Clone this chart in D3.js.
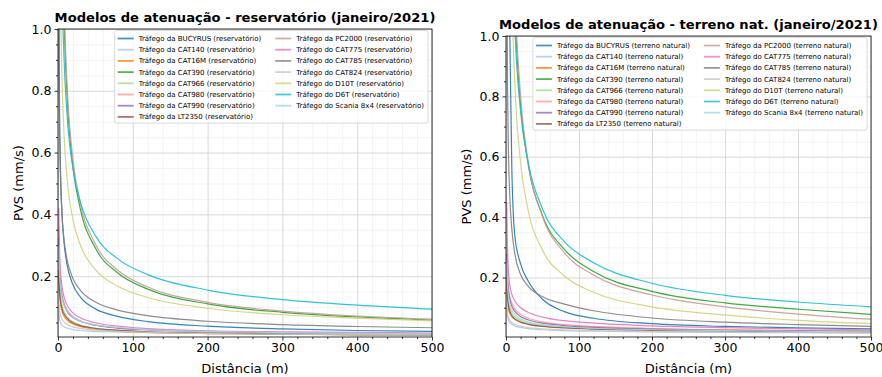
<!DOCTYPE html>
<html>
<head>
<meta charset="utf-8">
<script src="https://cdn.jsdelivr.net/npm/d3@7"></script>
<style>
  body { margin: 0; background: #fff; }
  text { font-family: "DejaVu Sans", sans-serif; fill: #000; }
</style>
</head>
<body>
<svg id="chart" width="882" height="377"></svg>
<script>
const distances = [1, 2, 3, 5, 8, 12, 20, 30, 50, 80, 120, 200, 300, 400, 500];

const machines = ['BUCYRUS', 'CAT140', 'CAT16M', 'CAT390', 'CAT966', 'CAT980', 'CAT990', 'LT2350',
                  'PC2000', 'CAT775', 'CAT785', 'CAT824', 'D10T', 'D6T', 'Scania 8x4'];
const articles = ['da', 'da', 'da', 'da', 'da', 'da', 'da', 'da',
                  'da', 'do', 'do', 'do', 'do', 'do', 'do'];
const colors = ['#1f77b4', '#aec7e8', '#ff7f0e', '#2ca02c', '#98df8a', '#ff9896', '#9467bd', '#8c564b',
                '#c49c94', '#e377c2', '#7f7f7f', '#c7c7c7', '#d2d27a', '#17becf', '#9edae5'];

const xTicks = [0, 100, 200, 300, 400, 500];
const yTicks = [0.2, 0.4, 0.6, 0.8, 1.0];

// PVS (mm/s) - reservatório
const resBucyrus = [1.2, 0.764, 0.588, 0.421, 0.311, 0.239, 0.172, 0.132, 0.094, 0.070, 0.053, 0.038, 0.029, 0.024, 0.021];
const resCat140  = [0.09, 0.062, 0.052, 0.042, 0.036, 0.032, 0.027, 0.024, 0.021, 0.019, 0.017, 0.016, 0.014, 0.013, 0.013];
const resCat16m  = [0.2, 0.141, 0.115, 0.089, 0.071, 0.058, 0.045, 0.037, 0.028, 0.022, 0.018, 0.014, 0.012, 0.010, 0.009];
const resCat390  = [4.5, 2.77, 2.08, 1.46, 1.05, 0.792, 0.554, 0.416, 0.291, 0.210, 0.158, 0.110, 0.083, 0.068, 0.058];
const resCat966  = [0.27, 0.184, 0.148, 0.112, 0.086, 0.069, 0.052, 0.042, 0.031, 0.024, 0.019, 0.015, 0.012, 0.010, 0.009];
const resCat980  = [0.36, 0.246, 0.197, 0.149, 0.115, 0.092, 0.069, 0.055, 0.042, 0.032, 0.026, 0.020, 0.016, 0.014, 0.012];
const resCat990  = [0.32, 0.222, 0.179, 0.137, 0.107, 0.086, 0.066, 0.054, 0.041, 0.032, 0.027, 0.021, 0.017, 0.015, 0.013];
const resLt2350  = [0.22, 0.156, 0.127, 0.098, 0.078, 0.064, 0.049, 0.040, 0.031, 0.025, 0.020, 0.016, 0.013, 0.011, 0.010];
const resPc2000  = [4.7, 2.90, 2.18, 1.52, 1.10, 0.827, 0.578, 0.435, 0.304, 0.219, 0.165, 0.115, 0.087, 0.071, 0.061];
const resCat775  = [0.42, 0.287, 0.230, 0.173, 0.134, 0.107, 0.081, 0.065, 0.049, 0.038, 0.030, 0.023, 0.020, 0.018, 0.016];
const resCat785  = [1.0, 0.683, 0.547, 0.413, 0.319, 0.255, 0.192, 0.154, 0.116, 0.090, 0.072, 0.054, 0.043, 0.037, 0.033];
const resCat824  = [0.12, 0.091, 0.077, 0.063, 0.052, 0.044, 0.036, 0.031, 0.025, 0.021, 0.018, 0.014, 0.012, 0.011, 0.010];
const resD10t    = [2.31, 1.52, 1.19, 0.880, 0.663, 0.520, 0.383, 0.300, 0.221, 0.167, 0.131, 0.096, 0.075, 0.064, 0.055];
const resD6t     = [2.85, 1.95, 1.56, 1.18, 0.909, 0.727, 0.547, 0.439, 0.331, 0.256, 0.205, 0.155, 0.124, 0.106, 0.093];
const resScania  = [0.3, 0.212, 0.173, 0.134, 0.106, 0.087, 0.067, 0.055, 0.042, 0.034, 0.027, 0.021, 0.017, 0.015, 0.013];

// PVS (mm/s) - terreno natural
const natBucyrus = [3.0, 1.9, 1.4, 1.05, 0.56, 0.34, 0.245, 0.19, 0.128, 0.087, 0.065, 0.047, 0.038, 0.033, 0.030];
const natCat140  = [0.1, 0.072, 0.062, 0.052, 0.045, 0.040, 0.035, 0.031, 0.027, 0.024, 0.022, 0.020, 0.018, 0.017, 0.016];
const natCat16m  = [0.17, 0.12, 0.10, 0.082, 0.070, 0.062, 0.053, 0.047, 0.041, 0.036, 0.033, 0.029, 0.026, 0.024, 0.023];
const natCat390  = [6.28, 3.87, 2.91, 2.03, 1.46, 1.105, 0.772, 0.581, 0.406, 0.293, 0.220, 0.154, 0.116, 0.095, 0.078];
const natCat966  = [0.22, 0.155, 0.128, 0.10, 0.082, 0.070, 0.057, 0.049, 0.041, 0.035, 0.031, 0.027, 0.024, 0.022, 0.021];
const natCat980  = [0.3, 0.21, 0.175, 0.14, 0.115, 0.097, 0.078, 0.066, 0.053, 0.044, 0.038, 0.031, 0.027, 0.024, 0.022];
const natCat990  = [0.28, 0.20, 0.165, 0.13, 0.105, 0.088, 0.071, 0.060, 0.049, 0.041, 0.035, 0.029, 0.025, 0.023, 0.021];
const natLt2350  = [0.2, 0.14, 0.115, 0.09, 0.074, 0.063, 0.052, 0.045, 0.038, 0.033, 0.029, 0.025, 0.022, 0.020, 0.019];
const natPc2000  = [7.55, 4.49, 3.31, 2.26, 1.59, 1.17, 0.80, 0.589, 0.402, 0.282, 0.208, 0.142, 0.103, 0.079, 0.062];
const natCat775  = [0.45, 0.30, 0.235, 0.178, 0.144, 0.122, 0.100, 0.085, 0.069, 0.057, 0.049, 0.040, 0.034, 0.030, 0.027];
const natCat785  = [1.3, 0.85, 0.66, 0.48, 0.36, 0.28, 0.21, 0.172, 0.136, 0.112, 0.090, 0.066, 0.052, 0.044, 0.038];
const natCat824  = [0.12, 0.085, 0.072, 0.060, 0.051, 0.045, 0.039, 0.034, 0.030, 0.027, 0.024, 0.021, 0.019, 0.018, 0.017];
const natD10t    = [5.47, 3.25, 2.40, 1.64, 1.15, 0.848, 0.580, 0.427, 0.291, 0.205, 0.151, 0.103, 0.076, 0.058, 0.047];
const natD6t     = [4.8, 3.12, 2.43, 1.77, 1.32, 1.03, 0.749, 0.586, 0.427, 0.319, 0.249, 0.181, 0.141, 0.119, 0.103];
const natScania  = [0.25, 0.175, 0.143, 0.112, 0.092, 0.078, 0.063, 0.053, 0.044, 0.037, 0.032, 0.027, 0.024, 0.022, 0.020];

const resSeries = [resBucyrus, resCat140, resCat16m, resCat390, resCat966, resCat980, resCat990, resLt2350,
                   resPc2000, resCat775, resCat785, resCat824, resD10t, resD6t, resScania];
const natSeries = [natBucyrus, natCat140, natCat16m, natCat390, natCat966, natCat980, natCat990, natLt2350,
                   natPc2000, natCat775, natCat785, natCat824, natD10t, natD6t, natScania];

const svg = d3.select('#chart');

function drawPanel(p) {
  const x = d3.scaleLinear().domain([0, 500]).range([p.left, p.right]);
  const y = d3.scaleLinear().domain([0.003, 1]).range([p.bottom, p.top]);
  const h = p.bottom - p.top;
  const g = svg.append('g');

  // grid, minor then major
  g.append('g')
    .attr('transform', `translate(0,${p.bottom})`)
    .call(d3.axisBottom(x).tickValues(d3.range(0, 501, 20)).tickSize(-h).tickFormat(''))
    .call(s => s.select('.domain').remove())
    .selectAll('line').attr('stroke', '#ececec').attr('stroke-width', 0.6);
  g.append('g')
    .attr('transform', `translate(${p.left},0)`)
    .call(d3.axisLeft(y).tickValues(d3.range(0.05, 1.0, 0.05)).tickSize(-(p.right - p.left)).tickFormat(''))
    .call(s => s.select('.domain').remove())
    .selectAll('line').attr('stroke', '#ececec').attr('stroke-width', 0.6);
  g.append('g')
    .attr('transform', `translate(0,${p.bottom})`)
    .call(d3.axisBottom(x).tickValues(xTicks).tickSize(-h).tickFormat(''))
    .call(s => s.select('.domain').remove())
    .selectAll('line').attr('stroke', '#d6d6d6').attr('stroke-width', 0.8);
  g.append('g')
    .attr('transform', `translate(${p.left},0)`)
    .call(d3.axisLeft(y).tickValues(yTicks).tickSize(-(p.right - p.left)).tickFormat(''))
    .call(s => s.select('.domain').remove())
    .selectAll('line').attr('stroke', '#d6d6d6').attr('stroke-width', 0.8);

  // curves
  const clipId = 'clip-' + p.key;
  svg.append('clipPath').attr('id', clipId)
    .append('rect').attr('x', p.left).attr('y', p.top)
    .attr('width', p.right - p.left).attr('height', h);

  const line = d3.line()
    .x((d, i) => x(distances[i]))
    .y(d => y(d))
    .curve(d3.curveMonotoneX);

  g.append('g').attr('clip-path', `url(#${clipId})`)
    .selectAll('path')
    .data(p.series)
    .join('path')
      .attr('d', line)
      .attr('fill', 'none')
      .attr('stroke', (d, i) => colors[i])
      .attr('stroke-width', 1.2)
      .attr('stroke-opacity', 0.9);

  // frame
  g.append('rect')
    .attr('x', p.left).attr('y', p.top)
    .attr('width', p.right - p.left).attr('height', h)
    .attr('fill', 'none').attr('stroke', '#000').attr('stroke-width', 0.8);

  // axes
  const xAxis = g.append('g')
    .attr('transform', `translate(0,${p.bottom})`)
    .call(d3.axisBottom(x).tickValues(xTicks).tickSize(3.5).tickPadding(3).tickFormat(d3.format('d')));
  const xMinor = g.append('g')
    .attr('transform', `translate(0,${p.bottom})`)
    .call(d3.axisBottom(x).tickValues(d3.range(20, 500, 20).filter(v => v % 100)).tickSize(2).tickFormat(''));
  const yAxis = g.append('g')
    .attr('transform', `translate(${p.left},0)`)
    .call(d3.axisLeft(y).tickValues(yTicks).tickSize(3.5).tickPadding(3).tickFormat(d3.format('.1f')));
  const yMinor = g.append('g')
    .attr('transform', `translate(${p.left},0)`)
    .call(d3.axisLeft(y).tickValues([0.05, 0.1, 0.15, 0.25, 0.3, 0.35, 0.45, 0.5, 0.55, 0.65, 0.7, 0.75, 0.85, 0.9, 0.95]).tickSize(2).tickFormat(''));
  [xAxis, xMinor, yAxis, yMinor].forEach(a => {
    a.select('.domain').remove();
    a.selectAll('line').attr('stroke', '#000').attr('stroke-width', 0.8);
    a.selectAll('text').attr('font-size', 12.5).attr('font-family', '"DejaVu Sans", sans-serif');
  });

  // titles and labels
  g.append('text')
    .attr('x', (p.left + p.right) / 2).attr('y', p.top - 7)
    .attr('text-anchor', 'middle')
    .attr('font-size', 13.1).attr('font-weight', 'bold')
    .text(p.title);
  g.append('text')
    .attr('x', (p.left + p.right) / 2).attr('y', p.bottom + 36)
    .attr('text-anchor', 'middle').attr('font-size', 13)
    .text('Distância (m)');
  g.append('text')
    .attr('transform', `translate(${p.left - 35},${(p.top + p.bottom) / 2}) rotate(-90)`)
    .attr('text-anchor', 'middle').attr('font-size', 13)
    .text('PVS (mm/s)');

  // legend, two columns
  const fs = 7.0, rowH = 11.2, handle = 16;
  const lg = g.append('g');
  const bg = lg.append('rect');
  const items = lg.selectAll('g.item')
    .data(machines)
    .join('g').attr('class', 'item');
  items.append('line')
    .attr('x1', 0).attr('x2', handle)
    .attr('stroke', (d, i) => colors[i])
    .attr('stroke-width', 1.8).attr('stroke-opacity', 0.8);
  items.append('text')
    .attr('x', handle + 5).attr('dy', '0.35em')
    .attr('font-size', fs)
    .text((d, i) => `Tráfego ${articles[i]} ${d} (${p.suffix})`);

  const widths = items.select('text').nodes().map(n => n.getComputedTextLength());
  const w1 = d3.max(widths.slice(0, 8));
  const w2 = d3.max(widths.slice(8));
  const col2 = handle + 5 + w1 + 14;
  items.attr('transform', (d, i) => i < 8
    ? `translate(3,${8 + i * rowH})`
    : `translate(${3 + col2},${8 + (i - 8) * rowH})`);
  const lw = 3 + col2 + handle + 5 + w2 + 4;
  const lh = 8 * rowH + 3;
  bg.attr('width', lw).attr('height', lh).attr('rx', 2)
    .attr('fill', '#fff').attr('fill-opacity', 0.8)
    .attr('stroke', '#d0d0d0').attr('stroke-width', 0.8);
  lg.attr('transform', `translate(${p.right - 4 - lw},${p.top + 1.5})`);
}

drawPanel({
  key: 'res', left: 58, right: 432, top: 29, bottom: 337,
  title: 'Modelos de atenuação - reservatório (janeiro/2021)',
  suffix: 'reservatório', series: resSeries
});
drawPanel({
  key: 'nat', left: 506, right: 871, top: 36, bottom: 337,
  title: 'Modelos de atenuação - terreno nat. (janeiro/2021)',
  suffix: 'terreno natural', series: natSeries
});
</script>
</body>
</html>
